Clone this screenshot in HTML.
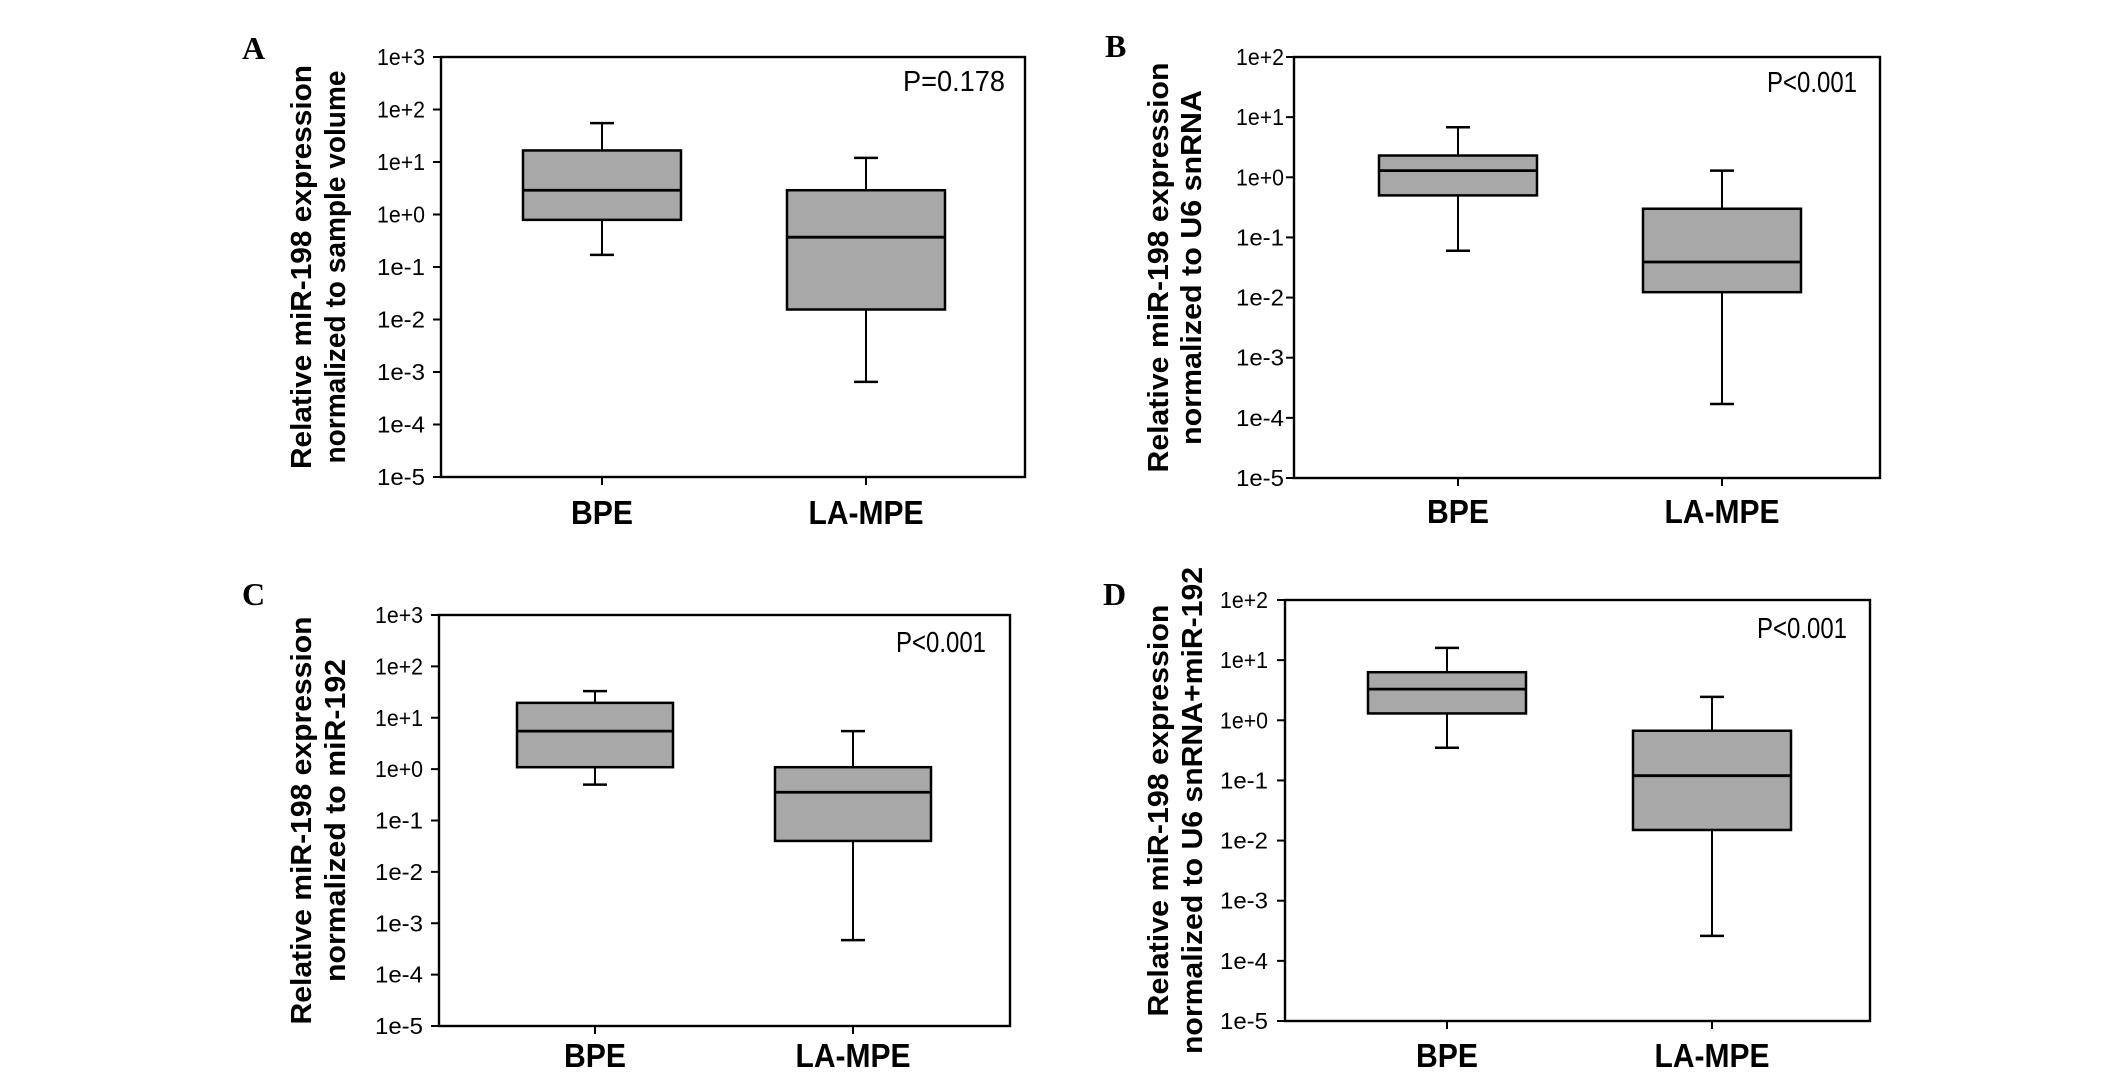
<!DOCTYPE html>
<html><head><meta charset="utf-8"><style>
html,body{margin:0;padding:0;background:#fff;}
svg{display:block;}
text{font-family:"Liberation Sans",sans-serif;}
</style></head><body>
<svg id="fig" width="2126" height="1082" viewBox="0 0 2126 1082" xmlns="http://www.w3.org/2000/svg"></svg>
<script>
const categories = ["BPE", "LA-MPE"];
// [whiskerLow, Q1, median, Q3, whiskerHigh] per category
const panelA = [[0.17, 0.79, 2.9, 16.6, 55], [0.00065, 0.0155, 0.37, 2.9, 12]];
const panelB = [[0.06, 0.5, 1.29, 2.3, 6.8], [0.00017, 0.0123, 0.039, 0.3, 1.29]];
const panelC = [[0.5, 1.09, 5.5, 19.5, 33], [0.00047, 0.04, 0.355, 1.09, 5.5]];
const panelD = [[0.35, 1.3, 3.3, 6.3, 16], [0.00026, 0.015, 0.12, 0.67, 2.45]];
const pValues = ["P=0.178", "P<0.001", "P<0.001", "P<0.001"];
const tickExpA = [3, 2, 1, 0, -1, -2, -3, -4, -5];
const tickExpB = [2, 1, 0, -1, -2, -3, -4, -5];
const letters = ["A", "B", "C", "D"];
const titleLine1 = "Relative miR-198 expression";
const titleLine2 = ["normalized to sample volume", "normalized to U6 snRNA", "normalized to miR-192", "normalized to U6 snRNA+miR-192"];

const NS = "http://www.w3.org/2000/svg";
const svg = document.getElementById("fig");
function mk(tag, attrs, parent) {
  const e = document.createElementNS(NS, tag);
  for (const k in attrs) e.setAttribute(k, attrs[k]);
  (parent || svg).appendChild(e);
  return e;
}
function tickLabel(e) { return "1e" + (e >= 0 ? "+" : "") + e; }

const layouts = [
  {x0:441,x1:1025,y0:57,y1:477,cx:[602,866],hw:79,letter:[242,59],p:[1005,91],tl:425,cat:524,t1:311,t2:345,l1:404,l2:393,data:panelA,ticks:tickExpA},
  {x0:1294,x1:1880,y0:57,y1:478,cx:[1458,1722],hw:79,letter:[1105,57],p:[1857,92],tl:1284,cat:523,t1:1168,t2:1201,l1:410,l2:355,data:panelB,ticks:tickExpB},
  {x0:439,x1:1010,y0:615,y1:1026,cx:[595,853],hw:78,letter:[242,605],p:[986,652],tl:423,cat:1067,t1:311,t2:345,l1:408,l2:323,data:panelC,ticks:tickExpA},
  {x0:1285,x1:1870,y0:600,y1:1021,cx:[1447,1712],hw:79,letter:[1103,605],p:[1847,638],tl:1268,cat:1067,t1:1168,t2:1202,l1:412,l2:487,data:panelD,ticks:tickExpB}
];

layouts.forEach((L, i) => {
  const g = mk("g", {});
  
  
  const top = L.ticks[0], bot = L.ticks[L.ticks.length - 1];
  const y = v => L.y0 + (top - Math.log10(v)) / (top - bot) * (L.y1 - L.y0);

  const lt = mk("text", {x:L.letter[0], y:L.letter[1], "font-size":32, "font-weight":"bold", style:"font-family:'Liberation Serif',serif"}, g);
  lt.textContent = letters[i];
  
  

  const fr = mk("rect", {x:L.x0, y:L.y0, width:L.x1-L.x0, height:L.y1-L.y0, fill:"none", stroke:"#000", "stroke-width":2.4}, g);
  
  

  L.ticks.forEach(e => {
    const ty = y(Math.pow(10, e));
    mk("line", {x1:L.x0-8, x2:L.x0, y1:ty, y2:ty, stroke:"#000", "stroke-width":2}, g);
    const t = mk("text", {x:L.tl, y:ty+8, "font-size":23, "text-anchor":"end", textLength:48, lengthAdjust:"spacingAndGlyphs"}, g);
    t.textContent = tickLabel(e);
    
    
  });

  const cyc = (L.y0 + L.y1) / 2;
  const a1 = mk("text", {x:0, y:0, "font-size":29, "font-weight":"bold", "text-anchor":"middle", textLength:L.l1, lengthAdjust:"spacingAndGlyphs", transform:`translate(${L.t1},${cyc}) rotate(-90)`}, g);
  a1.textContent = titleLine1;
  
  
  const a2 = mk("text", {x:0, y:0, "font-size":29, "font-weight":"bold", "text-anchor":"middle", textLength:L.l2, lengthAdjust:"spacingAndGlyphs", transform:`translate(${L.t2},${cyc}) rotate(-90)`}, g);
  a2.textContent = titleLine2[i];
  
  

  const pt = mk("text", {x:L.p[0], y:L.p[1], "font-size":29, "text-anchor":"end", textLength:i===0?102:90, lengthAdjust:"spacingAndGlyphs"}, g);
  pt.textContent = pValues[i];
  
  

  categories.forEach((c, j) => {
    const cx = L.cx[j], d = L.data[j];
    mk("line", {x1:cx, x2:cx, y1:L.y1, y2:L.y1+8, stroke:"#000", "stroke-width":2}, g);
    const ct = mk("text", {x:cx, y:L.cat, "font-size":33, "font-weight":"bold", "text-anchor":"middle", textLength:j===0?62:115, lengthAdjust:"spacingAndGlyphs"}, g);
    ct.textContent = c;
    
    

    const bg = mk("g", {}, g);
    
    
    mk("line", {x1:cx, x2:cx, y1:y(d[4]), y2:y(d[3]), stroke:"#000", "stroke-width":2}, bg);
    mk("line", {x1:cx, x2:cx, y1:y(d[1]), y2:y(d[0]), stroke:"#000", "stroke-width":2}, bg);
    mk("line", {x1:cx-12, x2:cx+12, y1:y(d[4]), y2:y(d[4]), stroke:"#000", "stroke-width":2.5}, bg);
    mk("line", {x1:cx-12, x2:cx+12, y1:y(d[0]), y2:y(d[0]), stroke:"#000", "stroke-width":2.5}, bg);
    mk("rect", {x:cx-L.hw, y:y(d[3]), width:2*L.hw, height:y(d[1])-y(d[3]), fill:"#a8a8a8", stroke:"#000", "stroke-width":2.5}, bg);
    mk("line", {x1:cx-L.hw, x2:cx+L.hw, y1:y(d[2]), y2:y(d[2]), stroke:"#000", "stroke-width":2.8}, bg);
  });
});
</script>
</body></html>
